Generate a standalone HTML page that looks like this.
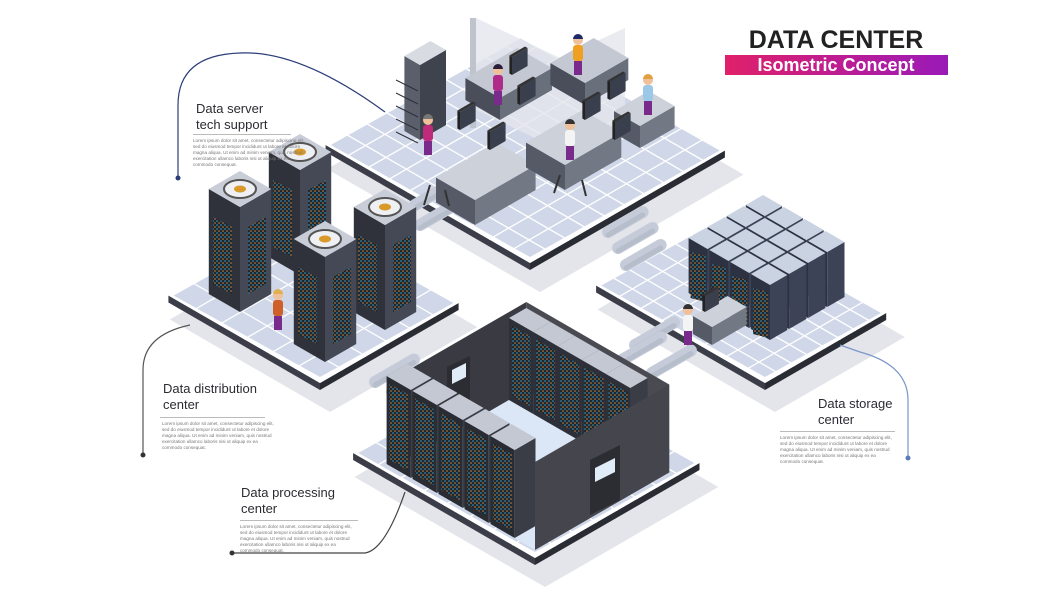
<!DOCTYPE html>
<html><head><meta charset="utf-8">
<style>
body{margin:0;background:#fff;width:1050px;height:600px;overflow:hidden;position:relative;font-family:"Liberation Sans",sans-serif}
svg{position:absolute;left:0;top:0}
.t{position:absolute;color:#2b2b33;font-size:13px;line-height:16px}
.hr{position:absolute;height:1px;background:#bbb}
.lo{position:absolute;font-size:4.6px;line-height:6px;color:#777;width:115px}
</style></head><body>
<svg id="s" width="1050" height="600" viewBox="0 0 1050 600">
<defs>
<pattern id="rk" width="4" height="4" patternUnits="userSpaceOnUse"><rect width="4" height="4" fill="#1f2630"/><circle cx="1" cy="1" r=".8" fill="#3aa6c8"/><circle cx="3" cy="3" r=".8" fill="#d18a3a"/></pattern>
</defs>
<g id="g"></g>
<g fill="none" stroke="#2c3e7a" stroke-width="1.2">
<path d="M178 178 V105 Q178 55 240 53 Q300 50 385 112"/>
<path d="M143 455 V370 Q143 335 190 325" stroke="#555"/>
<path d="M908 458 V400 Q908 365 860 352 L840 345" stroke="#7a96c8"/>
<path d="M232 553 H365 Q385 550 405 492" stroke="#444"/>
</g>
<circle cx="178" cy="178" r="2.5" fill="#2c3e7a"/>
<circle cx="143" cy="455" r="2.5" fill="#333"/>
<circle cx="908" cy="458" r="2.5" fill="#5a7ab8"/>
<circle cx="232" cy="553" r="2.5" fill="#333"/>
<defs><linearGradient id="gr"><stop offset="0" stop-color="#e0206a"/><stop offset="1" stop-color="#9a1ab8"/></linearGradient></defs>
<rect x="725" y="55" width="223" height="20" fill="url(#gr)"/>
<text x="836" y="48" text-anchor="middle" font-family="Liberation Sans" font-weight="bold" font-size="25" fill="#222">DATA CENTER</text>
<text x="836" y="71" text-anchor="middle" font-family="Liberation Sans" font-weight="bold" font-size="18" fill="#fff">Isometric Concept</text>
</svg>
<div class="t" style="left:196px;top:101px">Data server<br>tech support</div>
<div class="hr" style="left:193px;top:134px;width:98px"></div>
<div class="lo" style="left:193px;top:138px">Lorem ipsum dolor sit amet, consectetur adipiscing elit, sed do eiusmod tempor incididunt ut labore et dolore magna aliqua. Ut enim ad minim veniam, quis nostrud exercitation ullamco laboris nisi ut aliquip ex ea commodo consequat.</div>
<div class="t" style="left:163px;top:381px">Data distribution<br>center</div>
<div class="hr" style="left:160px;top:417px;width:105px"></div>
<div class="lo" style="left:162px;top:421px">Lorem ipsum dolor sit amet, consectetur adipiscing elit, sed do eiusmod tempor incididunt ut labore et dolore magna aliqua. Ut enim ad minim veniam, quis nostrud exercitation ullamco laboris nisi ut aliquip ex ea commodo consequat.</div>
<div class="t" style="left:818px;top:396px">Data storage<br>center</div>
<div class="hr" style="left:780px;top:431px;width:115px"></div>
<div class="lo" style="left:780px;top:435px">Lorem ipsum dolor sit amet, consectetur adipiscing elit, sed do eiusmod tempor incididunt ut labore et dolore magna aliqua. Ut enim ad minim veniam, quis nostrud exercitation ullamco laboris nisi ut aliquip ex ea commodo consequat.</div>
<div class="t" style="left:241px;top:485px">Data processing<br>center</div>
<div class="hr" style="left:240px;top:520px;width:118px"></div>
<div class="lo" style="left:240px;top:524px">Lorem ipsum dolor sit amet, consectetur adipiscing elit, sed do eiusmod tempor incididunt ut labore et dolore magna aliqua. Ut enim ad minim veniam, quis nostrud exercitation ullamco laboris nisi ut aliquip ex ea commodo consequat.</div>
<script>
const g=document.getElementById('g');let h='';
const C=.866;
function poly(p,f,s){h+=`<polygon points="${p.map(q=>q[0].toFixed(1)+','+q[1].toFixed(1)).join(' ')}" fill="${f}"${s?` stroke="${s}" stroke-width="1"`:''}/>`;}
function box(x,y,a,b,H,top,l,r,st){const F=[x,y],R=[x+C*a,y-.5*a],L=[x-C*b,y-.5*b],B=[x+C*a-C*b,y-.5*a-.5*b];const up=p=>[p[0],p[1]-H];
poly([L,F,up(F),up(L)],l,st);poly([F,R,up(R),up(F)],r,st);poly([up(F),up(R),up(B),up(L)],top,st);return {F,R,L,B};}
function lpat(x,y,b,H){const i=3;poly([[x-C*(b-i),y-.5*(b-i)-6],[x-C*i,y-.5*i-6],[x-C*i,y-.5*i-H+6],[x-C*(b-i),y-.5*(b-i)-H+6]],'url(#rk)');}
function shadow(x,y,a,b){const F=[x,y],R=[x+C*a,y-.5*a],L=[x-C*b,y-.5*b],B=[x+C*a-C*b,y-.5*a-.5*b];poly([F,R,B,L],'#e4e5ea');}
function plat(x,y,a,b,n){shadow(x+10,y+22,a+10,b+10);box(x,y,a,b,7,'#fff','#3b3e48','#2a2c34');
const F=[x,y-7];const m=6;
poly([[F[0],F[1]-m],[F[0]+C*(a-m),F[1]-.5*(a-m)-m*.5],[F[0]+C*a-C*b,F[1]-.5*a-.5*b+m],[F[0]-C*(b-m),F[1]-.5*(b-m)-m*.5]],'#cfd7e8');
for(let i=1;i<n;i++){const t=i/n;let p1=[F[0]+C*a*t,F[1]-.5*a*t],p2=[p1[0]-C*b,p1[1]-.5*b];h+=`<line x1="${p1[0]}" y1="${p1[1]}" x2="${p2[0]}" y2="${p2[1]}" stroke="#fff" stroke-width="1.3"/>`;
p1=[F[0]-C*b*t,F[1]-.5*b*t];p2=[p1[0]+C*a,p1[1]-.5*a];h+=`<line x1="${p1[0]}" y1="${p1[1]}" x2="${p2[0]}" y2="${p2[1]}" stroke="#fff" stroke-width="1.3"/>`;}}
function pill(x,y,w){h+=`<line x1="${x}" y1="${y}" x2="${x+C*w}" y2="${y-.5*w}" stroke="#c5cbd8" stroke-width="12" stroke-linecap="round"/><line x1="${x}" y1="${y+3}" x2="${x+C*w}" y2="${y+3-.5*w}" stroke="#a9b0c0" stroke-width="5" stroke-linecap="round" opacity=".5"/>`;}
function person(x,y,c,hair){h+=`<rect x="${x-5}" y="${y-30}" width="10" height="16" rx="3" fill="${c}"/><rect x="${x-4}" y="${y-14}" width="8" height="14" fill="#7a2a8a"/><circle cx="${x}" cy="${y-35}" r="5" fill="#f0c09a"/><path d="M${x-5} ${y-36} a5 5 0 0 1 10 0z" fill="${hair}"/>`;}
plat(530,270,225,236,10);
plat(320,390,160,175,6);
plat(765,390,140,195,8);
plat(535,565,190,210,8);
pill(375,382,45);pill(392,392,45);pill(415,205,30);pill(420,225,35);
pill(608,232,40);pill(618,248,40);pill(626,265,40);
pill(635,345,45);pill(622,360,45);pill(652,373,45);
h+=`<rect x="470" y="18" width="6" height="110" fill="#bfc3cc"/><polygon points="476,18 560,58 560,150 476,110" fill="#e3e6ec" opacity=".8"/><polygon points="560,58 625,28 625,120 560,150" fill="#e3e6ec" opacity=".8"/>`;
box(420,140,30,18,75,'#d8dbe2','#5b5f6b','#3f434d');
for(let i=0;i<5;i++)h+=`<line x1="396" y1="${80+i*13}" x2="418" y2="${91+i*13}" stroke="#2d3038" stroke-width="1"/>`;
box(500,120,60,40,22,'#c4c8d2','#4a4e5a','#6a6f7c');
box(585,105,50,40,22,'#c4c8d2','#4a4e5a','#6a6f7c');
box(475,225,70,45,25,'#cdd1da','#555a66','#737885');
box(565,190,65,45,25,'#cdd1da','#555a66','#737885');
box(640,148,40,30,22,'#cdd1da','#555a66','#737885');
[[512,75],[520,105],[460,130],[490,150],[585,120],[610,100],[615,140]].forEach(([x,y])=>{box(x,y,18,3,18,'#333','#222','#3a3f4d');});
person(578,75,'#f0a020','#1f2a6a');person(498,105,'#b02a8a','#2a1f3a');person(428,155,'#c02a7a','#777');person(570,160,'#f4f4f4','#333');person(648,115,'#9cc8e8','#e0a040');
h+=`<path d="M430 185 l-6 20 M445 190 l4 16 M560 175 l-6 18 M582 180 l4 16" stroke="#333" stroke-width="2"/>`;
[[300,275],[240,312],[385,330],[325,362]].forEach(([x,y])=>{box(x,y,36,36,105,'#c9cdd8','#2f323b','#454955');
poly([[x-27,y-28],[x-8,y-18],[x-8,y-85],[x-27,y-95]],'url(#rk)');poly([[x+8,y-18],[x+26,y-28],[x+26,y-95],[x+8,y-85]],'url(#rk)');
h+=`<ellipse cx="${x}" cy="${y-123}" rx="16" ry="9" fill="#eef0f4" stroke="#555" stroke-width="2"/><ellipse cx="${x}" cy="${y-123}" rx="6" ry="3.5" fill="#d99a2a"/>`;});
person(278,330,'#d0602a','#e0b050');
for(let r=3;r>=0;r--)for(let c=3;c>=0;c--){const x=770+c*C*22-r*C*24,y=340-c*11-r*12;box(x,y,20,22,55,'#c9d3e2','#2d3242','#3d4356');poly([[x-17,y-6],[x-2,y-2],[x-2,y-48],[x-17,y-52]],'url(#rk)');}
box(712,345,40,22,18,'#cdd1da','#555a66','#737885');box(705,312,16,3,16,'#333','#222','#3a3f4d');person(688,345,'#f4f4f4','#333');
// processing room
const F=[535,550],a=155,b=165,H=88;
const R=[F[0]+C*a,F[1]-.5*a],L=[F[0]-C*b,F[1]-.5*b],B=[F[0]+C*a-C*b,F[1]-.5*a-.5*b],up=(p,k=H)=>[p[0],p[1]-k];
poly([L,B,up(B),up(L)],'#3a3b42');poly([B,R,up(R),up(B)],'#4a4b52');
poly([L,B,R,F],'#dbe6f6');
poly([[447,367],[470,356],[470,400],[447,411]],'#2c2d33');poly([[452,370],[466,363],[466,377],[452,384]],'#e0ecf8');
// back rack row along B->R
for(let i=0;i<5;i++){const x=B[0]+C*28*(i+1)-C*20,y=B[1]+14*(i+1)+10;box(x,y,20,28,H-6,'#c4c8d2','#2d3038','#3a3d46');lpat(x,y,28,H-6);}
// front rack row along L->F
for(let i=4;i>=0;i--){const x=F[0]-22-i*C*30+C*2,y=F[1]-12-i*15;box(x,y,24,28,H,'#c4c8d2','#2a2c33','#3a3d46');lpat(x,y,28,H);}
poly([F,R,up(R),up(F)],'#45464d');
poly([[590,515],[620,500],[620,445],[590,460]],'#2c2d33');poly([[595,468],[615,458],[615,472],[595,482]],'#e0ecf8');
g.innerHTML=h;
</script>
</body></html>
